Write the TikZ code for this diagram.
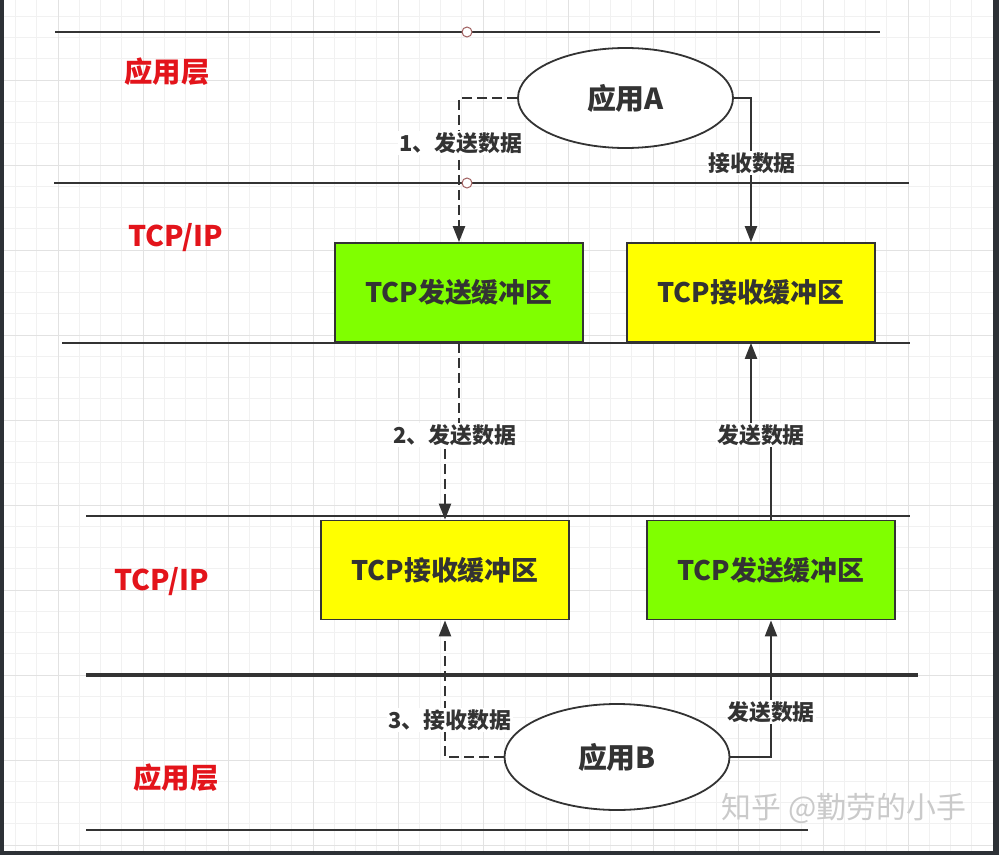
\documentclass[tikz,border=0pt]{standalone}
\usepackage{fontspec}
\setmainfont{Noto Sans CJK SC}
\usetikzlibrary{arrows.meta,shapes.geometric}
\definecolor{ln}{HTML}{333333}
\definecolor{redtxt}{HTML}{E3141B}
\definecolor{bufgreen}{HTML}{80FF00}
\definecolor{bufyellow}{HTML}{FFFF00}
\definecolor{gridminor}{HTML}{F1F1F1}
\definecolor{gridmajor}{HTML}{E2E2E2}
\definecolor{frame}{HTML}{2D3136}
\definecolor{dotc}{HTML}{A06060}
\definecolor{wmark}{HTML}{CACACA}
\tikzset{
  hline/.style={draw=ln, line width=2.4bp},
  buf/.style={draw=ln, line width=1.8bp, minimum width=248bp, minimum height=99bp, inner sep=0pt,
    font=\fontsize{27}{30}\selectfont\bfseries, text=ln},
  app/.style={ellipse, draw=ln, line width=1.8bp, fill=white, inner sep=0pt,
    font=\fontsize{29}{32}\selectfont\bfseries, text=ln},
  layer/.style={font=\fontsize{28.5}{32}\selectfont\bfseries, text=redtxt},
  elabel/.style={fill=white, inner sep=1.5bp, font=\fontsize{22}{26}\selectfont\bfseries, text=ln},
  conn/.style={draw=ln, line width=2.2bp, -{Triangle[length=16bp,width=12bp]}},
  dconn/.style={conn, dash pattern=on 10bp off 5bp},
  pin/.style={circle, draw=dotc, fill=white, line width=1bp, minimum size=10bp, inner sep=0pt},
}
\begin{document}
\begin{tikzpicture}[x=1bp,y=-1bp]
\useasboundingbox (0,0) rectangle (999,855);
\fill[white] (0,0) rectangle (999,855);
% grid
\foreach \i in {-2,...,44} {\draw[gridminor, line width=0.8bp] ({58+21.25*\i},0) -- ({58+21.25*\i},855);}
\foreach \i in {-3,...,37} {\draw[gridminor, line width=0.8bp] (0,{80+21.25*\i}) -- (999,{80+21.25*\i});}
\foreach \i in {0,...,11} {\draw[gridmajor, line width=0.9bp] ({58+85*\i},0) -- ({58+85*\i},855);}
\foreach \i in {-1,...,9} {\draw[gridmajor, line width=0.9bp] (0,{80+85*\i}) -- (999,{80+85*\i});}
% frame
\fill[frame] (0,0) rectangle (4,855);
\fill[frame] (993,0) rectangle (999,855);
\fill[frame] (0,851) rectangle (999,855);
% layer lines
\draw[hline] (55,32) -- (880,32);
\draw[hline] (54,183) -- (909,183);
\draw[hline] (62,343) -- (910,343);
\draw[hline] (86,516) -- (910,516);
\draw[hline, line width=4bp] (86,675) -- (918,675);
\draw[hline] (86,830) -- (808,830);
% layer labels
\node[layer] (lay1) at (167,72) {应用层};
\node[layer] (lay2) at (176,238) {TCP/IP};
\node[layer] (lay3) at (162,582) {TCP/IP};
\node[layer] (lay4) at (176,778) {应用层};
% nodes
\node[app, minimum width=215bp, minimum height=100bp] (A) at (625.5,98) {应用A};
\node[app, minimum width=225bp, minimum height=106bp] (B) at (617,757) {应用B};
\node[buf, fill=bufgreen] (gs) at (459,292.5) {TCP发送缓冲区};
\node[buf, fill=bufyellow] (yr) at (751,292.5) {TCP接收缓冲区};
\node[buf, fill=bufyellow] (ry) at (445,570) {TCP接收缓冲区};
\node[buf, fill=bufgreen] (gl) at (771,570) {TCP发送缓冲区};
% pins
\node[pin] (p1) at (467,32) {};
\node[pin] (p2) at (467,183) {};
% jog coordinates
\coordinate (m1) at (452,435);
\coordinate (m2) at (761,435);
% connectors
\draw[dconn] (A.west) -| (gs.north);
\draw[conn] (A.east) -| (yr.north);
\draw[dconn] (gs.south) |- (m1) -| (ry.north);
\draw[conn] (gl.north) |- (m2) -| (yr.south);
\draw[dconn] (B.west) -| (ry.south);
\draw[conn] (B.east) -| (gl.south);
% edge labels
\node[elabel] (t1) at (461,143) {1、发送数据};
\node[elabel] (t2) at (752,163) {接收数据};
\node[elabel] (t3) at (455,435) {2、发送数据};
\node[elabel] (t4) at (761,435) {发送数据};
\node[elabel] (t5) at (450,720) {3、接收数据};
\node[elabel] (t6) at (771,712) {发送数据};
% watermark
\node[font=\fontsize{30}{34}\selectfont, text=wmark] (wm) at (844,808) {知乎 @勤劳的小手};
\end{tikzpicture}
\end{document}
